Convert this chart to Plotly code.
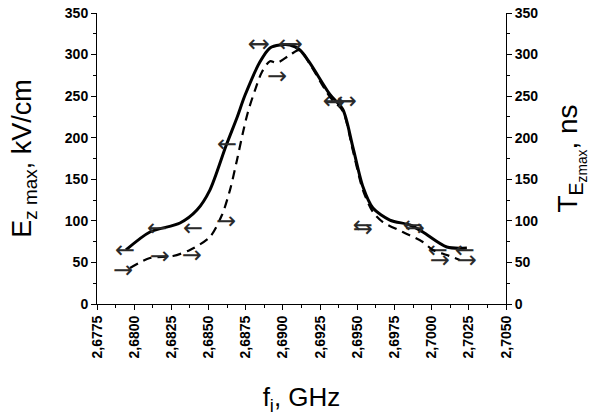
import plotly.graph_objects as go

# Smoothed curves
ez_curve_f = [2.67945, 2.68106, 2.68308, 2.68422, 2.68509, 2.68617, 2.68691, 2.68745, 2.68845,
              2.68913, 2.68980, 2.69047, 2.69114, 2.69181, 2.69316, 2.69403, 2.69470, 2.69538,
              2.69605, 2.69719, 2.69854, 2.69941, 2.70102, 2.70237]
ez_curve_v = [65, 86.6, 97.4, 113, 137, 190, 224, 251, 291, 308, 311.5, 311.5, 305.5, 290, 252,
              234, 189, 141, 115.5, 101, 95, 86.6, 68.6, 67.4]

t_curve_f = [2.67972, 2.68106, 2.68261, 2.68375, 2.68509, 2.68590, 2.68644, 2.68691, 2.68731,
             2.68765, 2.68812, 2.68859, 2.68913, 2.68960, 2.69047, 2.69114, 2.69181, 2.69316,
             2.69403, 2.69470, 2.69538, 2.69605, 2.69672, 2.69806, 2.69941, 2.70008, 2.70102,
             2.70190]
t_curve_v = [43.3, 55.3, 57.7, 65, 80.6, 107, 137, 173, 206, 231, 257, 279, 292, 290, 299.5,
             305.5, 288.7, 249, 232, 185, 137, 110.7, 98.6, 86.6, 74.6, 65, 59, 53]

# Measured points (arrows)
ez_pts_f = [2.67938, 2.68153, 2.68395, 2.68624, 2.68832, 2.69034, 2.69336, 2.69420, 2.69538,
            2.69874, 2.70042, 2.70223]
ez_pts_v = [62.5, 89, 89, 190, 310, 310, 242, 242, 92.6, 92.6, 62.5, 62.5]

t_pts_f = [2.67925, 2.68173, 2.68388, 2.68617, 2.68845, 2.68960, 2.69067, 2.69350, 2.69430,
           2.69538, 2.69887, 2.70055, 2.70237]
t_pts_v = [38.5, 55.3, 56.5, 97.4, 310, 272, 310, 240, 242, 88, 89, 50.5, 50.5]

FONT = "Liberation Sans, Arial, sans-serif"

fig = go.Figure()
fig.add_trace(go.Scatter(x=ez_curve_f, y=ez_curve_v, mode="lines",
                         line=dict(color="black", width=3, shape="spline", smoothing=0.8),
                         showlegend=False, hoverinfo="skip"))
fig.add_trace(go.Scatter(x=t_curve_f, y=t_curve_v, mode="lines", yaxis="y2",
                         line=dict(color="black", width=2.2, dash="9px,6px", shape="spline", smoothing=0.8),
                         showlegend=False, hoverinfo="skip"))
fig.add_trace(go.Scatter(x=ez_pts_f, y=ez_pts_v, mode="text", text=["←"] * len(ez_pts_f),
                         textfont=dict(family="DejaVu Sans", size=24, color="#2a2a2a"),
                         textposition="middle center", showlegend=False))
fig.add_trace(go.Scatter(x=t_pts_f, y=t_pts_v, mode="text", yaxis="y2", text=["→"] * len(t_pts_f),
                         textfont=dict(family="DejaVu Sans", size=24, color="#2a2a2a"),
                         textposition="middle center", showlegend=False))

tickfont = dict(family=FONT, size=14, color="black", weight="bold")
axis_common = dict(showline=True, linecolor="black", linewidth=1, ticks="outside", ticklen=5,
                   tickcolor="black", showgrid=False, zeroline=False, tickfont=tickfont,
                   automargin=False)

fig.update_layout(
    width=606, height=418,
    margin=dict(l=97, r=100, t=13, b=114),
    plot_bgcolor="white", paper_bgcolor="white",
    separators=",.",
    font=dict(family=FONT, color="black"),
    xaxis=dict(range=[2.6775, 2.7050], tick0=2.6775, dtick=0.0025, tickformat=".4f",
               tickangle=-90,
               minor=dict(ticks="outside", ticklen=3, dtick=0.00125, tickcolor="black"),
               title=dict(text="f<sub>i</sub>, GHz", font=dict(family=FONT, size=26), standoff=30),
               **axis_common),
    yaxis=dict(range=[0, 350], dtick=50,
               minor=dict(ticks="outside", ticklen=3, dtick=25, tickcolor="black"),
               title=dict(text="E<sub>z max</sub>, kV/cm", font=dict(family=FONT, size=27), standoff=25),
               **axis_common),
    yaxis2=dict(range=[0, 350], dtick=50, overlaying="y", side="right",
                minor=dict(ticks="outside", ticklen=3, dtick=25, tickcolor="black"),
                title=dict(text="T<sub>E<sub>zmax</sub></sub>, ns", font=dict(family=FONT, size=28), standoff=20),
                **axis_common),
)

fig.write_html("out.html")
